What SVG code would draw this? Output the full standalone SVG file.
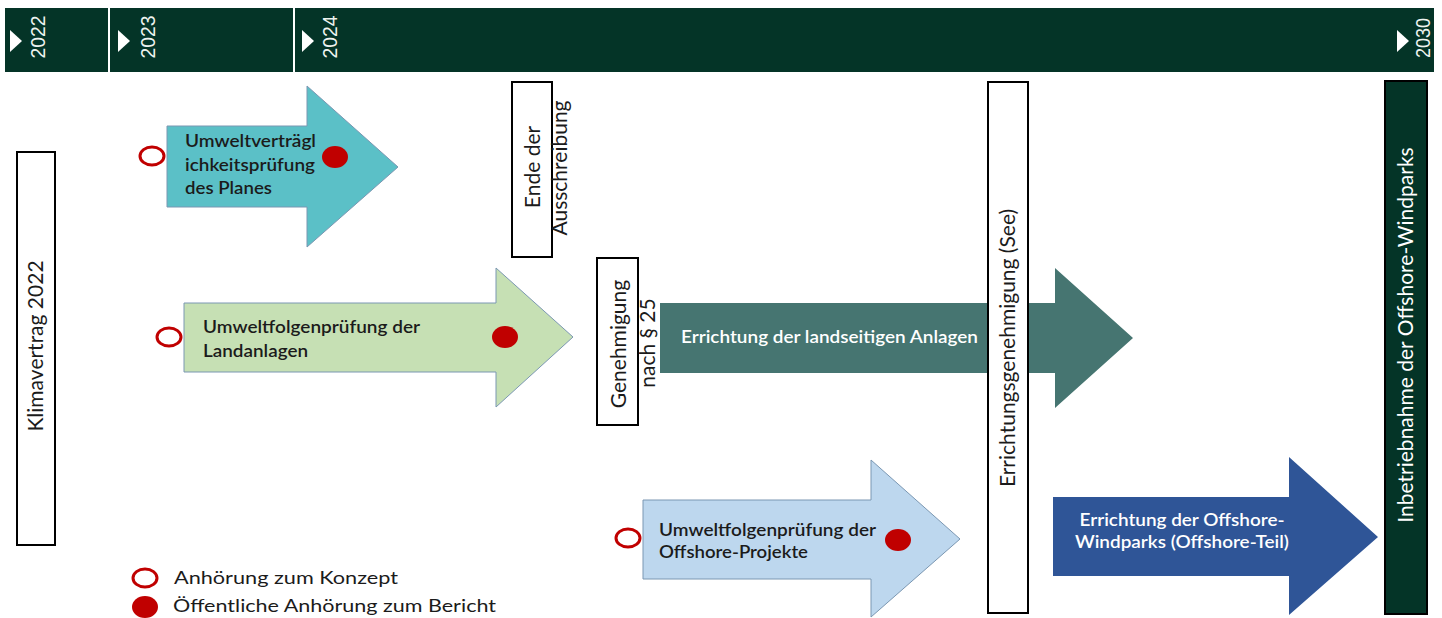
<svg xmlns="http://www.w3.org/2000/svg" width="1442" height="618" viewBox="0 0 1442 618">
<defs>
<style>
.t{font-family:Lato,"Open Sans","Liberation Sans",sans-serif;fill:#1b1b1b;font-size:17px}
.r{font-size:21px;text-anchor:middle}
.b{font-weight:600}
.w{fill:#ffffff}
.yr{font-family:"Liberation Sans",Arial,sans-serif;fill:#eef3ef;font-size:21px}
.box{fill:#ffffff;stroke:#000000;stroke-width:2}
.ring{fill:#ffffff;stroke:#c00000;stroke-width:3}
.dot{fill:#c00000}
.arr{stroke:#7b97b2;stroke-width:1}
</style>
</defs>
<rect width="1442" height="618" fill="#ffffff"/>
<g id="timeline">
<rect x="5" y="8" width="103" height="64" fill="#043427"/>
<rect x="110" y="8" width="183" height="64" fill="#043427"/>
<rect x="295" y="8" width="1139" height="64" fill="#043427"/>
<polygon points="10,30 22,41 10,52" fill="#ffffff"/>
<polygon points="118,30 130,41 118,52" fill="#ffffff"/>
<polygon points="302,30 314,41 302,52" fill="#ffffff"/>
<polygon points="1397,30 1409,41 1397,52" fill="#ffffff"/>
<text class="yr" text-anchor="middle" textLength="43" lengthAdjust="spacingAndGlyphs" transform="translate(45,37) rotate(-90)">2022</text>
<text class="yr" text-anchor="middle" textLength="43" lengthAdjust="spacingAndGlyphs" transform="translate(155,37) rotate(-90)">2023</text>
<text class="yr" text-anchor="middle" textLength="43" lengthAdjust="spacingAndGlyphs" transform="translate(337,37) rotate(-90)">2024</text>
<text class="yr" text-anchor="middle" textLength="40" lengthAdjust="spacingAndGlyphs" transform="translate(1430,38) rotate(-90)">2030</text>
</g>
<g id="klimavertrag">
<rect class="box" x="17" y="152" width="38" height="393"/>
<text class="t r" font-size="20" transform="translate(43,346) rotate(-90)">Klimavertrag 2022</text>
</g>
<g id="uvp-plan">
<polygon class="arr" points="167,126 307,126 307,86 398,167 307,247 307,207 167,207" fill="#5bc0c7"/>
<ellipse class="ring" cx="152" cy="156" rx="12" ry="9"/>
<ellipse class="dot" cx="335" cy="157" rx="13" ry="11"/>
<text class="t b" x="185" y="147" textLength="131" lengthAdjust="spacingAndGlyphs">Umweltverträgl</text>
<text class="t b" x="185" y="171" textLength="130" lengthAdjust="spacingAndGlyphs">ichkeitsprüfung</text>
<text class="t b" x="185" y="194" textLength="87" lengthAdjust="spacingAndGlyphs">des Planes</text>
</g>
<g id="ufp-land">
<polygon class="arr" points="184,303 496,303 496,268 573,337 496,407 496,372 184,372" fill="#c6e0b4"/>
<ellipse class="ring" cx="169" cy="337" rx="12" ry="9"/>
<ellipse class="dot" cx="505" cy="337" rx="13" ry="11"/>
<text class="t b" x="203" y="333" textLength="217" lengthAdjust="spacingAndGlyphs">Umweltfolgenprüfung der</text>
<text class="t b" x="203" y="357" textLength="105" lengthAdjust="spacingAndGlyphs">Landanlagen</text>
</g>
<g id="ende-ausschreibung">
<rect class="box" x="512" y="82" width="40" height="175"/>
<text class="t r" font-size="20" transform="translate(540,167) rotate(-90)">Ende der</text>
<text class="t r" font-size="20" transform="translate(567,168) rotate(-90)">Ausschreibung</text>
</g>
<g id="genehmigung">
<rect class="box" x="597" y="258" width="41" height="167"/>
<text class="t r" font-size="20" transform="translate(626,344) rotate(-90)">Genehmigung</text>
<text class="t r" font-size="20" transform="translate(655,343) rotate(-90)">nach § 25</text>
</g>
<g id="errichtung-land">
<polygon points="660,303 1055,303 1055,268 1133,338 1055,408 1055,373 660,373" fill="#467571"/>
<text class="t b w" x="681" y="343" textLength="297" lengthAdjust="spacingAndGlyphs">Errichtung der landseitigen Anlagen</text>
</g>
<g id="errichtungsgenehmigung">
<rect class="box" x="988" y="82" width="40" height="531"/>
<text class="t r" font-size="19" transform="translate(1015,348) rotate(-90)">Errichtungsgenehmigung (See)</text>
</g>
<g id="ufp-offshore">
<polygon class="arr" points="643,500 871,500 871,460 960,539 871,617 871,579 643,579" fill="#bdd7ee"/>
<ellipse class="ring" cx="628" cy="538" rx="12" ry="9"/>
<ellipse class="dot" cx="898" cy="540" rx="13" ry="11"/>
<text class="t b" x="659" y="536" textLength="217" lengthAdjust="spacingAndGlyphs">Umweltfolgenprüfung der</text>
<text class="t b" x="659" y="558" textLength="149" lengthAdjust="spacingAndGlyphs">Offshore-Projekte</text>
</g>
<g id="errichtung-offshore">
<polygon points="1053,497 1289,497 1289,457 1378,537 1289,615 1289,576 1053,576" fill="#2f5597"/>
<text class="t b w" x="1182" y="526" text-anchor="middle" textLength="205" lengthAdjust="spacingAndGlyphs">Errichtung der Offshore-</text>
<text class="t b w" x="1182" y="548" text-anchor="middle" textLength="214" lengthAdjust="spacingAndGlyphs">Windparks (Offshore-Teil)</text>
</g>
<g id="inbetriebnahme">
<rect x="1385" y="81" width="42" height="533" fill="#043427" stroke="#000000" stroke-width="2"/>
<text class="t r w" transform="translate(1413,335) rotate(-90)">Inbetriebnahme der Offshore-Windparks</text>
</g>
<g id="legend">
<ellipse class="ring" cx="145" cy="578" rx="12" ry="9"/>
<text class="t" x="174" y="584" font-size="18" textLength="224" lengthAdjust="spacingAndGlyphs">Anhörung zum Konzept</text>
<ellipse class="dot" cx="145" cy="607" rx="13" ry="11"/>
<text class="t" x="173" y="612" font-size="18" textLength="323" lengthAdjust="spacingAndGlyphs">Öffentliche Anhörung zum Bericht</text>
</g>
<g id="connectors"></g>
</svg>
